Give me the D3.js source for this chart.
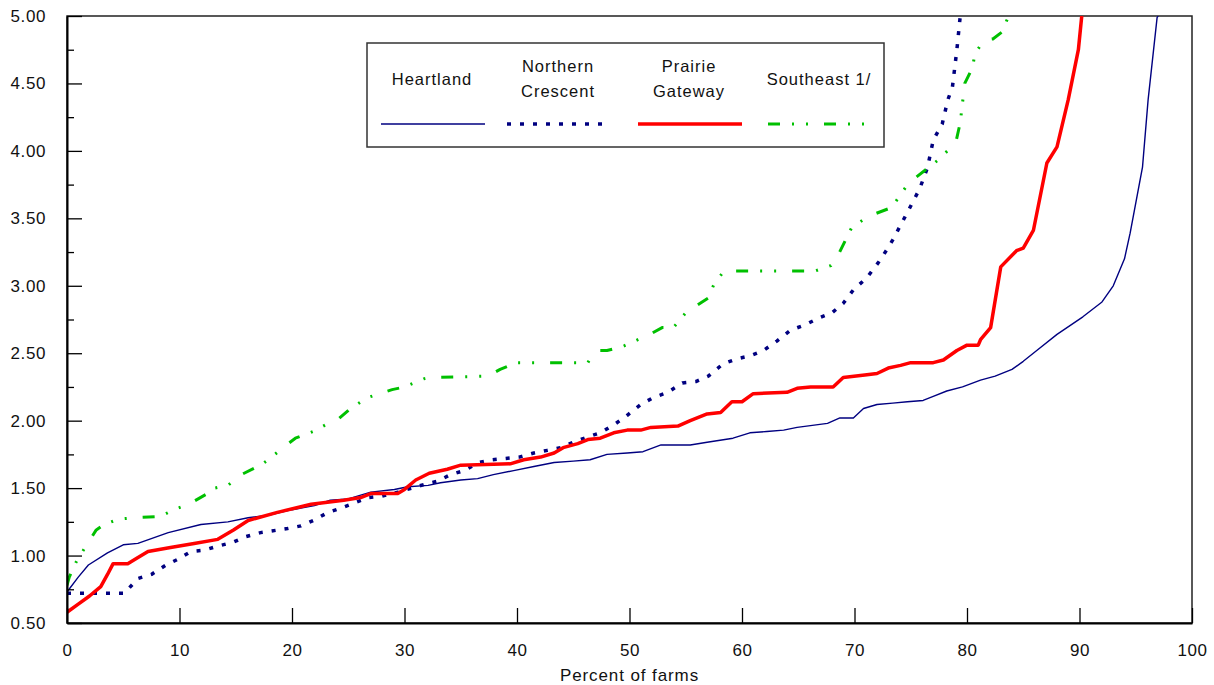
<!DOCTYPE html>
<meta charset="utf-8">
<style>
body{
  margin: 0;
  background: #fff;
}
svg{
  display: block;
  font-family: "Liberation Sans", Arial, sans-serif;
}
.tick text{
  font-size: 17px;
  letter-spacing: 0.6px;
  fill: #111;
}
</style>

<svg width="1214" height="685"></svg>
<script src="https://d3js.org/d3.v7.min.js"></script>
<script>

// values: percent of farms -> ratio
var heartlandX = [0,1,1.9,3.6,5,6.3,9,11.9,14.3,16.1,18,20,22,23.4,25,27,29.1,30.3,32.1,33.2,35,36.5,37.9,39.7,41.5,43.3,45,46.5,48,49.8,51.2,52.8,55.4,56.9,59.2,60.7,62.2,63.7,64.9,67.6,68.7,69.9,70.8,72,73.4,74.7,76.1,77,78.2,79.6,81.2,82.5,84,85,86.2,88,90.3,92,93,94,94.5,95.6,96.1,96.9,97];
var heartlandY = [0.73,0.84,0.93,1.02,1.08,1.09,1.17,1.23,1.25,1.28,1.30,1.34,1.37,1.41,1.42,1.47,1.49,1.51,1.52,1.54,1.56,1.57,1.60,1.63,1.66,1.69,1.70,1.71,1.75,1.76,1.77,1.82,1.82,1.84,1.87,1.91,1.92,1.93,1.95,1.98,2.02,2.02,2.09,2.12,2.13,2.14,2.15,2.18,2.22,2.25,2.30,2.33,2.38,2.44,2.52,2.64,2.77,2.88,3.00,3.20,3.39,3.88,4.38,4.99,5.00];

var northernX = [0,5.1,6.3,7.5,8.8,9.8,11,12.2,13.4,14.8,15.9,17.2,19.6,20.8,21.9,23.2,24.3,26.8,28,29.4,31.9,32.9,34.1,35.3,36.6,37.8,39,40.2,41.5,42.7,43.9,45,46.3,47.4,48.8,49.8,51,52.1,53.4,54.7,55.9,57,58.3,59.6,60.7,61.9,63.1,64.3,65.6,66.8,68,69,69.9,71.1,72.1,72.9,73.4,74.8,75.8,76.5,77,77.8,78.3,78.7,79.1,79.4];
var northernY = [0.72,0.72,0.83,0.86,0.93,0.97,1.03,1.04,1.07,1.10,1.14,1.17,1.20,1.22,1.26,1.32,1.35,1.43,1.44,1.47,1.53,1.55,1.60,1.63,1.69,1.71,1.72,1.73,1.76,1.78,1.80,1.84,1.88,1.91,1.98,2.04,2.12,2.17,2.21,2.28,2.29,2.33,2.42,2.46,2.48,2.52,2.59,2.67,2.71,2.76,2.80,2.87,2.97,3.06,3.17,3.27,3.34,3.56,3.72,3.88,4.08,4.20,4.38,4.47,4.75,5.00];

var prairieX = [0,1,2,3,3.6,4.1,5.4,6.2,7.2,9.2,11.3,13.4,14.8,16.1,18.7,21.7,24.6,26.1,27,29.4,30,31,32.2,33.8,35,39.4,40.6,42.1,43.3,44.1,45.4,46.3,47.4,48.6,49.8,51,51.9,54.3,55.4,56.9,58.1,59.1,60,61,64,64.9,66.1,68.1,69,71.1,72,73,74.1,75,77,77.9,79.1,80,81,81.2,82.1,83,84.4,85,85.9,87.1,88,89,89.9,90.2];
var prairieY = [0.58,0.64,0.70,0.77,0.86,0.94,0.94,0.98,1.03,1.06,1.09,1.12,1.19,1.26,1.32,1.38,1.41,1.43,1.46,1.46,1.49,1.56,1.61,1.64,1.67,1.68,1.71,1.73,1.76,1.80,1.83,1.86,1.87,1.91,1.93,1.93,1.95,1.96,2.00,2.05,2.06,2.14,2.14,2.20,2.21,2.24,2.25,2.25,2.32,2.34,2.35,2.39,2.41,2.43,2.43,2.45,2.52,2.56,2.56,2.60,2.69,3.14,3.26,3.28,3.41,3.91,4.03,4.38,4.75,5.00];

var southeastX = [0,0.2,0.8,1.6,2.6,3.3,4.6,5.9,8.3,9.5,10.8,12.5,13.1,14.3,15.5,17.2,17.9,19.2,20.3,21.9,23,24.1,25.2,26.7,27.4,28.9,30,31.7,32.3,37.4,38.5,39.9,46.3,46.5,47.2,48,49.4,51,51.6,52.9,53.9,55.2,55.9,57,57.5,58.4,66.5,67.9,68.5,69.8,71.4,73.3,74.8,77.4,79,79.4,79.8,80.5,80.7,81.5,82.3,83.1,83.7];
var southeastY = [0.78,0.84,0.95,1.06,1.19,1.23,1.27,1.28,1.29,1.34,1.38,1.46,1.50,1.52,1.60,1.67,1.71,1.80,1.87,1.92,1.97,2.01,2.09,2.17,2.19,2.23,2.25,2.31,2.32,2.33,2.38,2.43,2.43,2.46,2.52,2.52,2.55,2.61,2.63,2.69,2.69,2.82,2.85,2.91,3.01,3.11,3.11,3.15,3.22,3.44,3.52,3.58,3.76,3.93,4.06,4.21,4.50,4.62,4.72,4.82,4.83,4.88,5.00];

var xTicks = d3.range(0, 101, 10);
var yTicks = d3.range(0.5, 5.01, 0.5);
var yMinorTicks = d3.range(0.75, 5, 0.5);

var series = [
  {name: ["Heartland"], xs: heartlandX, ys: heartlandY, color: "#000080", width: 1.4, dash: null, cx: 432},
  {name: ["Northern", "Crescent"], xs: northernX, ys: northernY, color: "#000080", width: 3.5, dash: "4,9", cx: 558},
  {name: ["Prairie", "Gateway"], xs: prairieX, ys: prairieY, color: "#ff0000", width: 3.5, dash: null, cx: 689},
  {name: ["Southeast 1/"], xs: southeastX, ys: southeastY, color: "#00c000", width: 3, dash: "12,12,2,12,2,16", cx: 819}
];

var svg = d3.select("svg"),
    margin = {top: 16, right: 22, bottom: 62, left: 67},
    width = +svg.attr("width") - margin.left - margin.right,
    height = +svg.attr("height") - margin.top - margin.bottom;

var x = d3.scaleLinear().domain([0, 100]).range([0, width]);
var y = d3.scaleLinear().domain([0.5, 5]).range([height, 0]);

var g = svg.append("g").attr("transform", "translate(" + margin.left + "," + margin.top + ")");

g.append("clipPath").attr("id", "plot")
  .append("rect").attr("width", width).attr("height", height);

// frame
g.append("rect")
  .attr("width", width).attr("height", height)
  .attr("fill", "none").attr("stroke", "#222").attr("stroke-width", 1.5);

var line = d3.line()
  .x(function(d) { return x(d[0]); })
  .y(function(d) { return y(d[1]); });

g.append("g").attr("clip-path", "url(#plot)")
  .selectAll("path")
  .data(series)
  .enter().append("path")
    .attr("d", function(s) { return line(d3.zip(s.xs, s.ys)); })
    .attr("fill", "none")
    .attr("stroke", function(s) { return s.color; })
    .attr("stroke-width", function(s) { return s.width; })
    .attr("stroke-dasharray", function(s) { return s.dash; })
    .attr("stroke-linejoin", "round");

// axes, ticks pointing inwards
var xAxis = g.append("g")
  .attr("transform", "translate(0," + height + ")")
  .call(d3.axisBottom(x).tickValues(xTicks).tickSize(-15).tickSizeOuter(0).tickPadding(21));

var yAxis = g.append("g")
  .call(d3.axisLeft(y).tickValues(yTicks).tickFormat(d3.format(".2f")).tickSize(-15).tickSizeOuter(0).tickPadding(21));

g.append("g")
  .call(d3.axisLeft(y).tickValues(yMinorTicks).tickFormat("").tickSize(-7).tickSizeOuter(0))
  .select(".domain").remove();

[xAxis, yAxis].forEach(function(a) {
  a.select(".domain").attr("stroke", "#000").attr("stroke-width", 2);
});
g.selectAll(".tick line").attr("stroke", "#000").attr("stroke-width", 1.3);

svg.append("text")
  .attr("x", margin.left + width / 2)
  .attr("y", 681)
  .attr("text-anchor", "middle")
  .attr("font-size", 17)
  .attr("letter-spacing", 0.9)
  .attr("fill", "#111")
  .text("Percent of farms");

// legend
var legend = svg.append("g");

legend.append("rect")
  .attr("x", 367).attr("y", 43)
  .attr("width", 517).attr("height", 104)
  .attr("fill", "#fff").attr("stroke", "#333").attr("stroke-width", 1.5);

var item = legend.selectAll("g.item")
  .data(series)
  .enter().append("g").attr("class", "item");

item.each(function(s) {
  var it = d3.select(this);
  var y0 = s.name.length === 1 ? [79] : [66, 91];
  s.name.forEach(function(t, i) {
    it.append("text")
      .attr("x", s.cx).attr("y", y0[i] + 6)
      .attr("text-anchor", "middle")
      .attr("font-size", 16.5)
      .attr("letter-spacing", 1)
      .attr("fill", "#111")
      .text(t);
  });
  it.append("line")
    .attr("x1", s.cx - 51).attr("x2", s.cx + 53)
    .attr("y1", 124).attr("y2", 124)
    .attr("stroke", s.color)
    .attr("stroke-width", s.width)
    .attr("stroke-dasharray", s.dash);
});

</script>
